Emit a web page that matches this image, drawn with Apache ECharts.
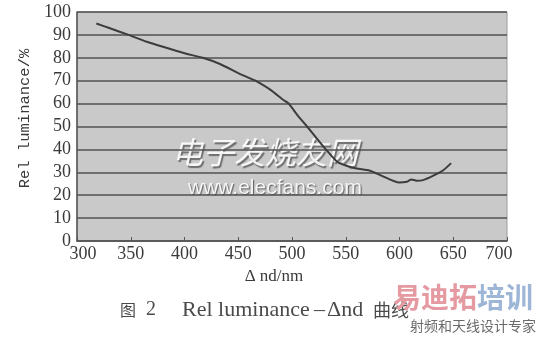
<!DOCTYPE html>
<html><head><meta charset="utf-8">
<script src="https://cdn.jsdelivr.net/npm/echarts@6/dist/echarts.min.js"></script>
<style>html,body{margin:0;padding:0;background:#fff}#c{width:541px;height:341px}</style>
</head><body><div id="c"></div>
<script>
const deltaNd = [318,330,348,365,380,400,417,433,450,461,466,480,492,497,505,514,523,532,542,550,560,572,582,591,599,607,611,616,622,631,641,648];
const relLuminance = [95,93,90,87,84.8,82,80,77.3,73.3,71,70,66,61.6,60,55,50,44.8,39.7,34.6,33,31.7,30.8,28.8,26.9,25.6,25.9,26.9,26.3,26.6,28.4,31,34];
const xTicks = [300,350,400,450,500,550,600,650,700];
const yTicks = [0,10,20,30,40,50,60,70,80,90,100];
const yAxisTitle = 'Rel luminance/%';
const xAxisTitle = 'Δ nd/nm';
const captionFig = '图';
const captionNum = '2';
const captionMain = 'Rel luminance';
const captionDash = '–';
const captionSym = 'Δnd';
const captionTail = '曲线';
const watermarkCn = '电子发烧友网';
const watermarkUrl = 'www.elecfans.com';
const logoRed = '易迪拓';
const logoBlue = '培训';
const logoSub = '射频和天线设计专家';

const serif = '"Liberation Serif","DejaVu Serif",serif';
const cjk = '"Noto Sans CJK SC",sans-serif';
const chart = echarts.init(document.getElementById('c'), null, {renderer:'canvas'});
const pts = deltaNd.map((x,i)=>[x, relLuminance[i]]);
const capStyle = (text, font, x) => ({type:'text',x:x,y:310,silent:true,style:{text:text,font:font,fill:'#4a4a4a',verticalAlign:'middle'}});
chart.setOption({
  animation:false,
  backgroundColor:'#fff',
  grid:{left:77,top:12,right:34,bottom:100,show:true,backgroundColor:'#c9c9c9',borderColor:'#9a9a9a',borderWidth:1},
  xAxis:{type:'value',min:xTicks[0],max:xTicks[xTicks.length-1],interval:50,
    name:xAxisTitle,nameLocation:'middle',nameGap:25,
    nameTextStyle:{fontFamily:serif,fontSize:17,color:'#3a3a3a',padding:[0,36,0,0]},
    axisLine:{show:true,lineStyle:{color:'#555',width:1.5}},
    axisTick:{show:true,inside:true,length:4,lineStyle:{color:'#555'}},
    splitLine:{show:false},
    axisLabel:{margin:4,fontFamily:serif,fontSize:18,color:'#3a3a3a',
      formatter:v=> v===xTicks[0] ? '{l|'+v+'}' : (v===xTicks[xTicks.length-1] ? '{r|'+v+'}' : '{n|'+v+'}'),
      rich:{l:{fontFamily:serif,fontSize:18,color:'#3a3a3a',padding:[0,0,0,12]},
            r:{fontFamily:serif,fontSize:18,color:'#3a3a3a',padding:[0,16,0,0]},
            n:{fontFamily:serif,fontSize:18,color:'#3a3a3a'}}}
  },
  yAxis:{type:'value',min:yTicks[0],max:yTicks[yTicks.length-1],interval:10,
    name:yAxisTitle,nameLocation:'middle',nameGap:43,nameRotate:90,
    nameTextStyle:{fontFamily:'"Liberation Mono",monospace',fontSize:15.5,color:'#3a3a3a',padding:[0,0,0,16]},
    axisLine:{show:true,lineStyle:{color:'#555',width:1.5}},
    axisTick:{show:false},
    splitLine:{show:true,lineStyle:{color:'#505050',width:1.5}},
    axisLabel:{margin:6,fontFamily:serif,fontSize:18,color:'#3a3a3a'}
  },
  series:[{type:'line',data:pts,showSymbol:false,smooth:0.2,
    lineStyle:{color:'#3c3c3c',width:2}}],
  graphic:[
    {type:'text',left:172,top:137,silent:true,style:{text:watermarkCn,font:'italic 31px '+cjk,fill:'rgba(255,255,255,0.88)',textShadowColor:'rgba(60,60,60,0.75)',textShadowOffsetX:1.5,textShadowOffsetY:1.5,textShadowBlur:1}},
    {type:'text',left:188,top:178,silent:true,style:{text:watermarkUrl,font:'21px "Liberation Sans Narrow","Liberation Sans",sans-serif',fill:'rgba(255,255,255,0.9)',textShadowColor:'rgba(50,50,50,0.8)',textShadowOffsetX:1,textShadowOffsetY:1,textShadowBlur:1}},
    capStyle(captionFig, '16px '+cjk, 120),
    capStyle(captionNum, '20px '+serif, 146),
    capStyle(captionMain, '22px '+serif, 182),
    capStyle(captionDash, '22px '+serif, 314),
    capStyle(captionSym, '22px '+serif, 327),
    capStyle(captionTail, '18px '+cjk, 373),
    {type:'text',x:393,y:297,silent:true,style:{text:'{r|'+logoRed+'}{b|'+logoBlue+'}',verticalAlign:'middle',
      rich:{r:{font:'bold 28px '+cjk,fill:'#e59aa2'},b:{font:'bold 28px '+cjk,fill:'#9db5d6'}}}},
    {type:'text',x:410,y:326,silent:true,style:{text:logoSub,font:'14px '+cjk,fill:'#6a6a6a',verticalAlign:'middle'}}
  ]
});
</script></body></html>
